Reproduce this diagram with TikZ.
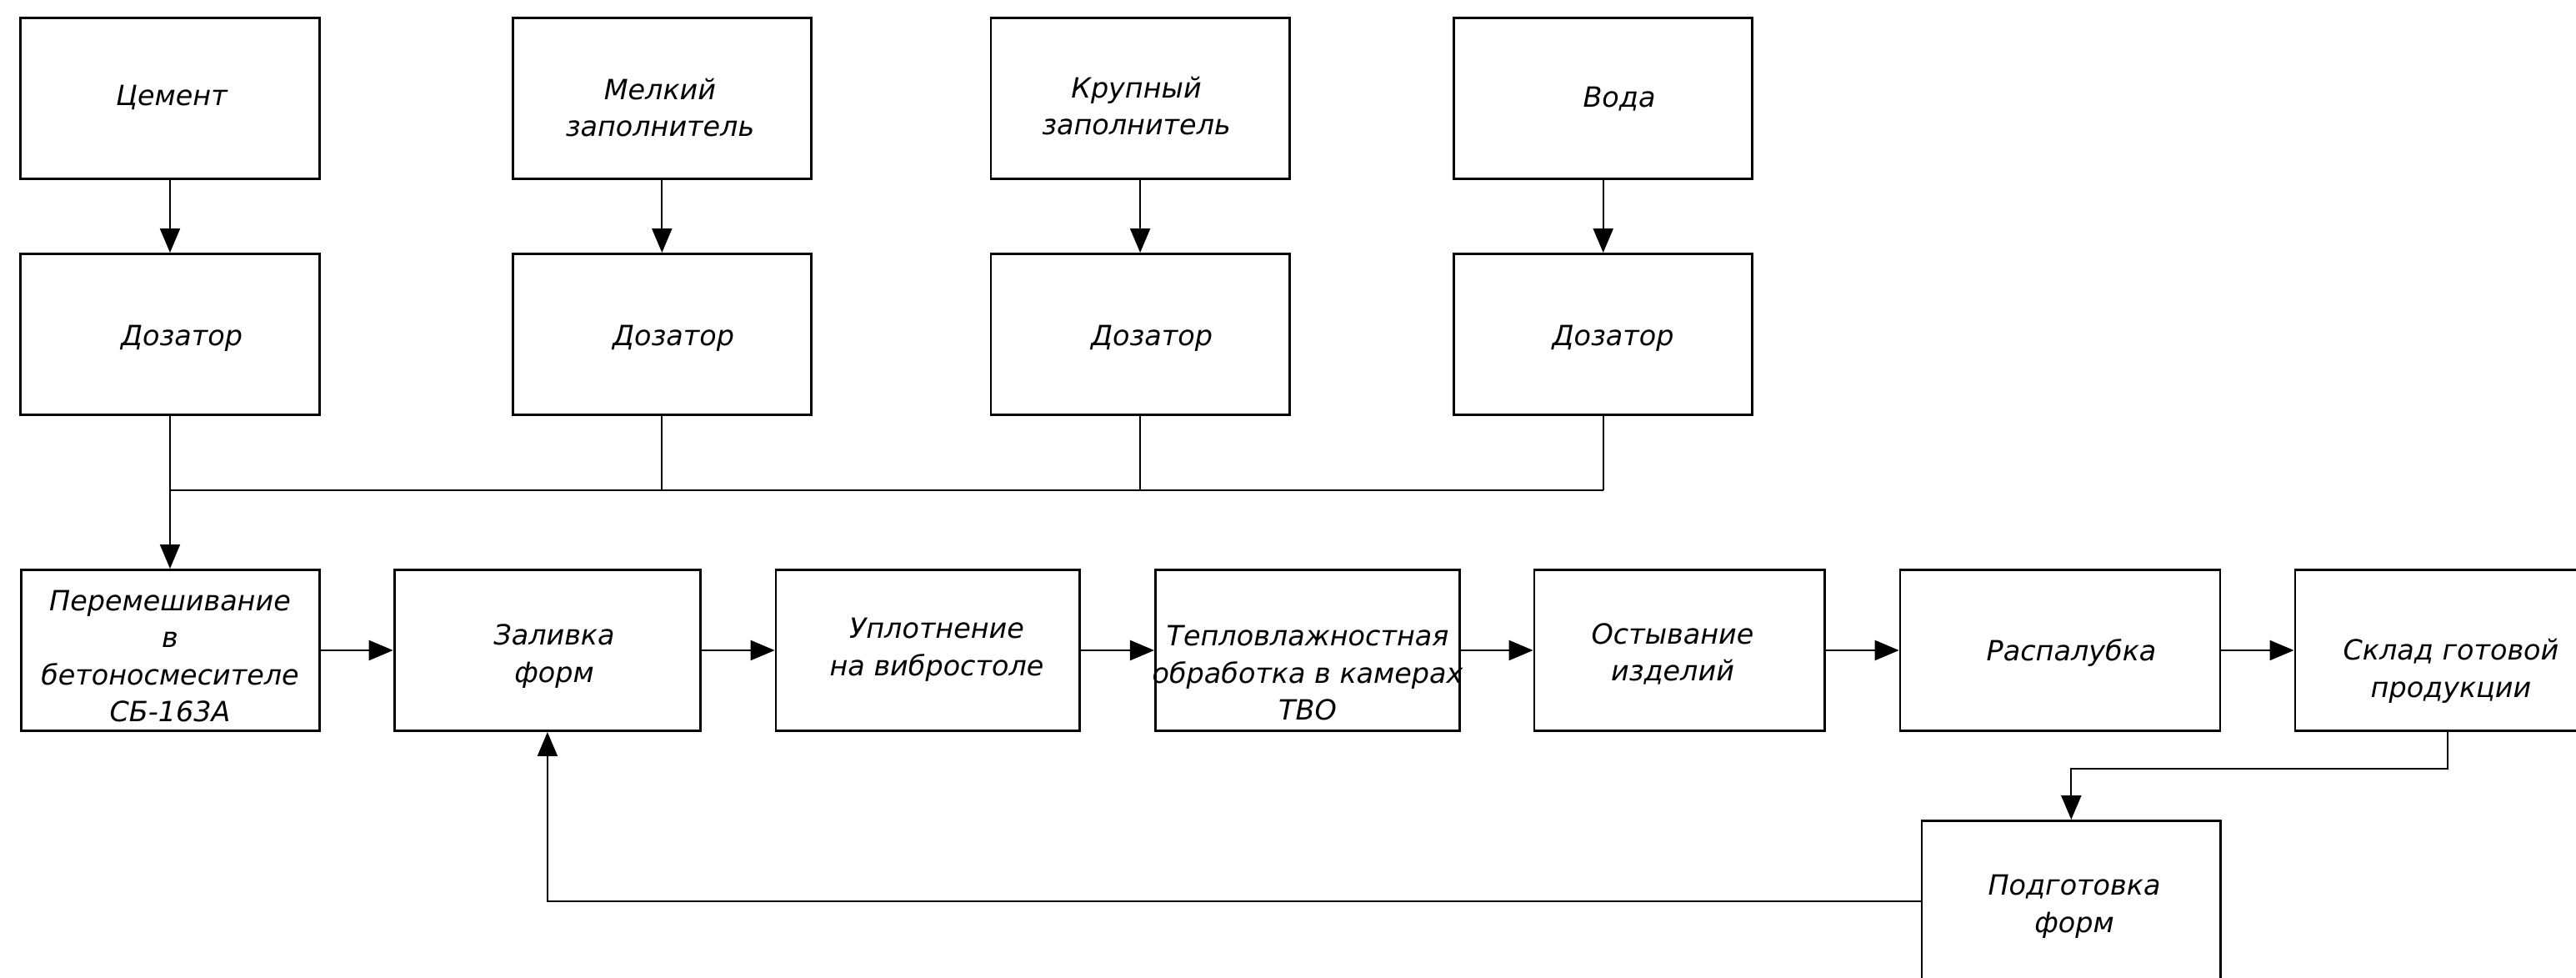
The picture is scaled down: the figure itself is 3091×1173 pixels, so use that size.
\documentclass[tikz,border=0pt]{standalone}
\usepackage{fontspec}
\setmainfont{DejaVu Sans}
\usetikzlibrary{arrows.meta}
\newcommand\lblfont{\fontsize{9.5pt}{12.66pt}\selectfont\itshape}
\begin{document}
\begin{tikzpicture}[x=0.01cm,y=-0.01cm,
  box/.style={draw,line width=0.8pt,minimum height=1.93cm,inner sep=0pt},
  lbl/.style={align=center,font=\lblfont,inner sep=0pt},
  con/.style={line width=0.6pt},
  arr/.style={con,-{Triangle[length=0.29cm,width=0.24cm]}}]
\useasboundingbox (0,0) rectangle (3091,1173);
\clip (0,0) rectangle (3091,1173);
% top row
\node[box,minimum width=3.585cm] (cem) at (204,118.25) {};
\node[box,minimum width=3.58cm] (mel) at (794.3,118.25) {};
\node[box,minimum width=3.58cm] (kru) at (1368.1,118.25) {};
\node[box,minimum width=3.58cm] (vod) at (1923.7,118.25) {};
\node[box,minimum width=3.585cm] (doz1) at (204,401) {};
\node[box,minimum width=3.58cm] (doz2) at (794.3,401) {};
\node[box,minimum width=3.58cm] (doz3) at (1368.1,401) {};
\node[box,minimum width=3.58cm] (doz4) at (1923.7,401) {};
% flow row
\node[box,minimum width=3.58cm] (mix) at (204.4,780) {};
\node[box,minimum width=3.674cm] (zal) at (656.9,780) {};
\node[box,minimum width=3.642cm] (upl) at (1113.2,780) {};
\node[box,minimum width=3.648cm] (tvo) at (1568.9,780) {};
\node[box,minimum width=3.48cm] (ost) at (2015.1,780) {};
\node[box,minimum width=3.837cm] (ras) at (2472,780) {};
\node[box,minimum width=3.66cm] (skl) at (2937,780) {};
\node[box,minimum width=3.585cm] (pod) at (2485.3,1081) {};
% labels
\node[lbl] (tcem) at (206,117) {Цемент};
\node[lbl] (tmel) at (792,129) {Мелкий\\заполнитель};
\node[lbl] (tkru) at (1363.5,127) {Крупный\\заполнитель};
\node[lbl] (tvod) at (1943,119) {Вода};
\node[lbl] (tdoz1) at (218,406) {Дозатор};
\node[lbl] (tdoz2) at (808,406) {Дозатор};
\node[lbl] (tdoz3) at (1382,406) {Дозатор};
\node[lbl] (tdoz4) at (1935.5,406) {Дозатор};
\node[lbl] (tmix) at (204,787) {Перемешивание\\в\\бетоносмесителе\\СБ-163А};
\node[lbl] (tzal) at (665,787) {Заливка\\форм};
\node[lbl] (tupl) at (1124,779.5) {Уплотнение\\на вибростоле};
\node[lbl] (ttvo) at (1569,807.4) {Тепловлажностная\\обработка в камерах\\ТВО};
\node[lbl] (tost) at (2007,784.3) {Остывание\\изделий};
\node[lbl] (tras) at (2485.5,783) {Распалубка};
\node[lbl] (tskl) at (2941,805) {Склад готовой\\продукции};
\node[lbl] (tpod) at (2489,1087.5) {Подготовка\\форм};
% connectors
\draw[arr] (cem.south) -- (doz1.north);
\draw[arr] (mel.south) -- (doz2.north);
\draw[arr] (kru.south) -- (doz3.north);
\draw[arr] (vod.south) -- (doz4.north);
\coordinate (busL) at (204,588);
\coordinate (busR) at (1923.7,588);
\draw[con] (busL) -- (busR);
\draw[con] (doz2.south) -- (doz2.south |- busL);
\draw[con] (doz3.south) -- (doz3.south |- busL);
\draw[con] (doz4.south) -- (busR);
\draw[arr] (doz1.south) -- (doz1.south |- mix.north);
\draw[arr] (mix.east) -- (zal.west);
\draw[arr] (zal.east) -- (upl.west);
\draw[arr] (upl.east) -- (tvo.west);
\draw[arr] (tvo.east) -- (ost.west);
\draw[arr] (ost.east) -- (ras.west);
\draw[arr] (ras.east) -- (skl.west);
\coordinate (sk) at (2937,921.7);
\draw[arr] (skl.south) -- (sk) -| (pod.north);
\draw[arr] (pod.west) -| (zal.south);
\end{tikzpicture}
\end{document}
